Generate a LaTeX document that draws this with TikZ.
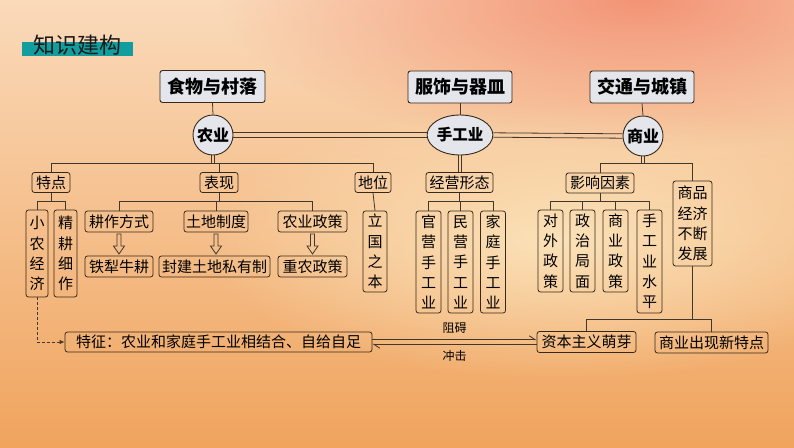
\documentclass[tikz,border=0pt]{standalone}
\usepackage{fontspec}
\newfontfamily\cjk{Noto Sans CJK SC}
\usetikzlibrary{arrows.meta,calc,fadings,shapes.geometric}
\definecolor{bgtop}{RGB}{250,218,186}
\definecolor{bgbot}{RGB}{240,164,94}
\definecolor{salmon}{RGB}{242,140,110}
\definecolor{cream}{RGB}{252,230,190}
\definecolor{boxc}{RGB}{55,40,25}
\definecolor{linec}{RGB}{65,55,45}
\definecolor{topfill}{RGB}{228,230,236}
\definecolor{titlebar}{RGB}{18,158,158}
\tikzfading[name=blob, inner color=transparent!10, outer color=transparent!100]
\begin{document}
\begin{tikzpicture}[x=1pt,y=-1pt,
  conn/.style={draw=linec, line width=0.8pt},
  topbox/.style={draw=boxc, fill=topfill, rounded corners=2.5pt, line width=0.9pt,
    minimum height=32pt, inner sep=0pt, font=\cjk\bfseries\fontsize{18}{18}\selectfont},
  circ/.style={circle, draw=boxc, fill=topfill, line width=0.9pt, minimum size=40pt,
    inner sep=0pt, font=\cjk\bfseries\fontsize{16}{16}\selectfont},
  ellip/.style={ellipse, draw=boxc, fill=topfill, line width=0.9pt, minimum height=40pt,
    minimum width=63pt, inner sep=0pt, font=\cjk\bfseries\fontsize{15.5}{15.5}\selectfont},
  hbox/.style={draw=boxc, rounded corners=2.5pt, line width=0.8pt, minimum height=20pt,
    inner sep=0pt, font=\cjk\fontsize{15}{15}\selectfont},
  vbox/.style={draw=boxc, rounded corners=2.5pt, line width=0.8pt, inner sep=0pt,
    align=center, font=\cjk\fontsize{15}{20.3}\selectfont},
  lbl/.style={inner sep=0pt, font=\cjk\fontsize{12}{12}\selectfont},
  hollowdown/.pic={\draw[linec, line width=0.8pt, line join=miter]
    (-2,-10) -- (2,-10) -- (2,2) -- (5.5,2) -- (0,10) -- (-5.5,2) -- (-2,2) -- cycle;}
]
\useasboundingbox (0,0) rectangle (794,447);
\begin{scope}
\clip (0,0) rectangle (794,447);
\shade[top color=bgtop, bottom color=bgbot] (0,0) rectangle (794,447);
\fill[salmon, path fading=blob] (640,0) ellipse [x radius=420, y radius=150];
\fill[cream, path fading=blob] (560,240) ellipse [x radius=360, y radius=140];
\end{scope}

% title
\fill[titlebar] (22,42) rectangle (133,56);
\node[inner sep=0pt, font=\cjk\fontsize{22}{22}\selectfont, text=black!90] (title) at (77,45) {知识建构};

% top
\node[topbox, minimum width=105pt] (food) at (212.5,86.5) {食物与村落};
\node[topbox, minimum width=104pt] (cloth) at (460,87) {服饰与器皿};
\node[topbox, minimum width=104pt] (trans) at (642,87) {交通与城镇};
\node[circ] (agri) at (213,135) {农业};
\node[ellip] (craft) at (460,135) {手工业};
\node[circ] (comm) at (643,136) {商业};

% level 2
\node[hbox, minimum width=38pt] (tedian) at (51,182.5) {特点};
\node[hbox, minimum width=38pt] (biaoxian) at (219,182.5) {表现};
\node[hbox, minimum width=36pt] (diwei) at (373,182.5) {地位};
\node[hbox, minimum width=67pt] (jingying) at (459.5,182.5) {经营形态};
\node[hbox, minimum width=68pt] (yingxiang) at (600,183) {影响因素};
\node[vbox, minimum width=39pt, minimum height=85pt] (shangpin) at (692.5,223.5) {商品\\经济\\不断\\发展};

% level 3
\node[vbox, minimum width=22pt, minimum height=87pt] (xiaonong) at (37,253.5) {小\\农\\经\\济};
\node[vbox, minimum width=23pt, minimum height=87pt] (jinggeng) at (65.5,253.5) {精\\耕\\细\\作};
\node[hbox, minimum width=68pt, minimum height=21pt] (gengzuo) at (119,221.5) {耕作方式};
\node[hbox, minimum width=64pt, minimum height=21pt] (tudi) at (216,221.5) {土地制度};
\node[hbox, minimum width=69pt, minimum height=21pt] (nongzheng) at (312.5,221.5) {农业政策};
\node[hbox, minimum width=68pt, minimum height=21pt] (tieli) at (119,266.5) {铁犁牛耕};
\node[hbox, minimum width=111pt, minimum height=21pt] (fengjian) at (214.5,266.5) {封建土地私有制};
\node[hbox, minimum width=69pt, minimum height=21pt] (zhongnong) at (312.5,266.5) {重农政策};
\node[vbox, minimum width=24pt, minimum height=81pt] (liguo) at (375,251.5) {立\\国\\之\\本};
\node[vbox, minimum width=25pt, minimum height=102pt] (guanying) at (428.5,262) {官\\营\\手\\工\\业};
\node[vbox, minimum width=25pt, minimum height=102pt] (minying) at (460.5,262) {民\\营\\手\\工\\业};
\node[vbox, minimum width=25pt, minimum height=102pt] (jiating) at (493,262) {家\\庭\\手\\工\\业};
\node[vbox, minimum width=25pt, minimum height=82pt] (duiwai) at (550.5,251) {对\\外\\政\\策};
\node[vbox, minimum width=25pt, minimum height=82pt] (zhengzhi) at (582.5,251) {政\\治\\局\\面};
\node[vbox, minimum width=25pt, minimum height=82pt] (shangye) at (615.5,251) {商\\业\\政\\策};
\node[vbox, minimum width=25pt, minimum height=103pt] (shgy) at (649.5,261.5) {手\\工\\业\\水\\平};

% bottom
\node[hbox, minimum width=307pt] (tezheng) at (218.5,342) {特征：农业和家庭手工业相结合、自给自足};
\node[hbox, minimum width=99pt, minimum height=21pt] (ziben) at (586.5,342) {资本主义萌芽};
\node[hbox, minimum width=113pt, minimum height=21pt] (xintd) at (711.5,342.5) {商业出现新特点};

\coordinate (r1) at (0,163);
\coordinate (r2) at (0,201);
\coordinate (r3) at (0,319);

% top connectors
\draw[conn] (food.south) -- (agri.north);
\draw[conn] (cloth.south) -- (craft.north);
\draw[conn] (trans.south) -- (comm.north);
\draw[conn] ([yshift=2.2pt]agri.east) -- ([yshift=2.2pt]craft.west);
\draw[conn] ([yshift=-2.2pt]agri.east) -- ([yshift=-2.2pt]craft.west);
\draw[conn] ([yshift=2.2pt]craft.east) -- ([yshift=2.2pt]comm.west);
\draw[conn] ([yshift=-2.2pt]craft.east) -- ([yshift=-2.2pt]comm.west);

% agriculture
\draw[conn] ([xshift=-1.6pt]agri.south) -- ([xshift=-1.6pt]agri.south |- r1);
\draw[conn] ([xshift=1.6pt]agri.south) -- ([xshift=1.6pt]agri.south |- r1);
\draw[conn] (tedian.north) -- (tedian.north |- r1) -- (diwei.north |- r1) -- (diwei.north);
\draw[conn] (biaoxian.north) -- (biaoxian.north |- r1);
\draw[conn] (tedian.south) -- (tedian.south |- r2);
\draw[conn] (xiaonong.north) -- (xiaonong.north |- r2) -- (jinggeng.north |- r2) -- (jinggeng.north);
\draw[conn] (biaoxian.south) -- (biaoxian.south |- r2);
\draw[conn] (gengzuo.north) -- (gengzuo.north |- r2) -- (nongzheng.north |- r2) -- (nongzheng.north);
\draw[conn] (tudi.north) -- (tudi.north |- r2);
\draw[conn] (diwei.south) -- (liguo.north);
\pic at ($(gengzuo.south)!0.5!(tieli.north)$) {hollowdown};
\pic at ($(tudi.south)!0.5!(tudi.south |- fengjian.north)$) {hollowdown};
\pic at ($(nongzheng.south)!0.5!(zhongnong.north)$) {hollowdown};

% craft
\draw[conn] ([xshift=-1.8pt]craft.south) -- ([xshift=-1.8pt]craft.south |- jingying.north);
\draw[conn] ([xshift=1.8pt]craft.south) -- ([xshift=1.8pt]craft.south |- jingying.north);
\draw[conn] (jingying.south) -- (jingying.south |- r2);
\draw[conn] (guanying.north) -- (guanying.north |- r2) -- (jiating.north |- r2) -- (jiating.north);
\draw[conn] (minying.north) -- (minying.north |- r2);

% commerce
\draw[conn] ([xshift=-1.6pt]comm.south) -- ([xshift=-1.6pt]comm.south |- r1);
\draw[conn] ([xshift=1.6pt]comm.south) -- ([xshift=1.6pt]comm.south |- r1);
\draw[conn] (yingxiang.north) -- (yingxiang.north |- r1) -- (shangpin.north |- r1) -- (shangpin.north);
\draw[conn] (yingxiang.south) -- (yingxiang.south |- r2);
\draw[conn] (duiwai.north) -- (duiwai.north |- r2) -- (shgy.north |- r2) -- (shgy.north);
\draw[conn] (zhengzhi.north) -- (zhengzhi.north |- r2);
\draw[conn] (shangye.north) -- (shangye.north |- r2);
\draw[conn] (shangpin.south) -- (shangpin.south |- r3);
\draw[conn] (ziben.north) -- (ziben.north |- r3) -- (xintd.north |- r3) -- (xintd.north);

% bottom relations
\draw[conn, dash pattern=on 3pt off 2pt, -{Latex[length=5pt,width=4.5pt]}] (xiaonong.south) |- (tezheng.west);
\draw[conn, -{Straight Barb[harpoon,length=6pt,width=8pt]}] ([yshift=2.2pt]tezheng.east) -- ([yshift=2.2pt]ziben.west)
  node[midway, above=6pt, lbl] (zuai) {阻碍};
\draw[conn, -{Straight Barb[harpoon,length=6pt,width=8pt]}] ([yshift=-2.2pt]ziben.west) -- ([yshift=-2.2pt]tezheng.east)
  node[midway, below=6pt, lbl] (chongji) {冲击};
\end{tikzpicture}
\end{document}
